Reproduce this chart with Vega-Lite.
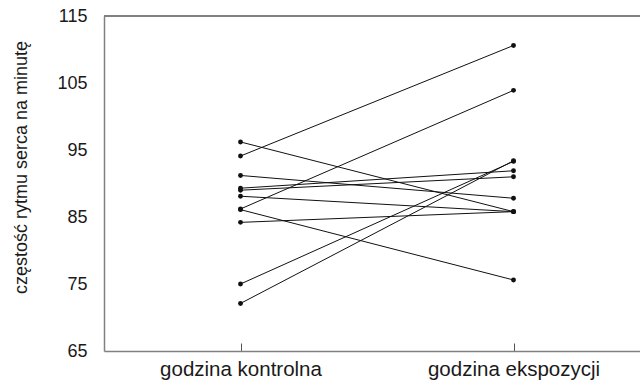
{
  "$schema": "https://vega.github.io/schema/vega-lite/v6.json",
  "width": 546,
  "height": 335,
  "autosize": {"type": "none"},
  "padding": {"left": 104, "top": 16, "right": 0, "bottom": 30},
  "background": "white",
  "config": {
    "view": {"stroke": null},
    "font": "Liberation Sans",
    "axis": {
      "domainColor": "#808080",
      "domainWidth": 1.5,
      "tickColor": "#555555",
      "labelColor": "#1a1a1a",
      "titleColor": "#1a1a1a",
      "labelFontSize": 18,
      "titleFontSize": 18,
      "titleFontWeight": "normal",
      "grid": false
    }
  },
  "data": {
    "values": [
      {"id": 1, "czas": "godzina kontrolna", "hr": 96.2},
      {"id": 1, "czas": "godzina ekspozycji", "hr": 85.8},
      {"id": 2, "czas": "godzina kontrolna", "hr": 94.1},
      {"id": 2, "czas": "godzina ekspozycji", "hr": 110.6},
      {"id": 3, "czas": "godzina kontrolna", "hr": 91.2},
      {"id": 3, "czas": "godzina ekspozycji", "hr": 87.8},
      {"id": 4, "czas": "godzina kontrolna", "hr": 89.3},
      {"id": 4, "czas": "godzina ekspozycji", "hr": 91.9},
      {"id": 5, "czas": "godzina kontrolna", "hr": 89.0},
      {"id": 5, "czas": "godzina ekspozycji", "hr": 91.0},
      {"id": 6, "czas": "godzina kontrolna", "hr": 88.1},
      {"id": 6, "czas": "godzina ekspozycji", "hr": 85.8},
      {"id": 7, "czas": "godzina kontrolna", "hr": 86.2},
      {"id": 7, "czas": "godzina ekspozycji", "hr": 103.9},
      {"id": 8, "czas": "godzina kontrolna", "hr": 86.1},
      {"id": 8, "czas": "godzina ekspozycji", "hr": 75.6},
      {"id": 9, "czas": "godzina kontrolna", "hr": 84.2},
      {"id": 9, "czas": "godzina ekspozycji", "hr": 85.8},
      {"id": 10, "czas": "godzina kontrolna", "hr": 75.0},
      {"id": 10, "czas": "godzina ekspozycji", "hr": 93.3},
      {"id": 11, "czas": "godzina kontrolna", "hr": 72.1},
      {"id": 11, "czas": "godzina ekspozycji", "hr": 93.4}
    ]
  },
  "encoding": {
    "x": {
      "field": "czas",
      "type": "nominal",
      "sort": ["godzina kontrolna", "godzina ekspozycji"],
      "scale": {"type": "point", "padding": 0.5},
      "axis": {
        "title": null,
        "labelAngle": 0,
        "labelFontSize": 20.5,
        "tickSize": -8,
        "tickWidth": 1,
        "labelPadding": 16,
        "labelBaseline": "top"
      }
    },
    "y": {
      "field": "hr",
      "type": "quantitative",
      "scale": {"domain": [65, 115], "nice": false, "zero": false},
      "axis": {
        "values": [65, 75, 85, 95, 105, 115],
        "ticks": false,
        "labelPadding": 17,
        "title": "częstość rytmu serca na minutę",
        "titleX": -78,
        "titleY": 151,
        "titleAngle": -90,
        "titleAlign": "center",
        "titleBaseline": "alphabetic"
      }
    }
  },
  "layer": [
    {
      "mark": {"type": "line", "color": "#111111", "strokeWidth": 1},
      "encoding": {"detail": {"field": "id", "type": "nominal"}}
    },
    {
      "mark": {"type": "circle", "color": "#111111", "opacity": 1, "size": 24}
    },
    {
      "mark": {"type": "rule", "color": "#808080", "strokeWidth": 1.5},
      "encoding": {"y": {"datum": 115}, "x": null}
    }
  ]
}
